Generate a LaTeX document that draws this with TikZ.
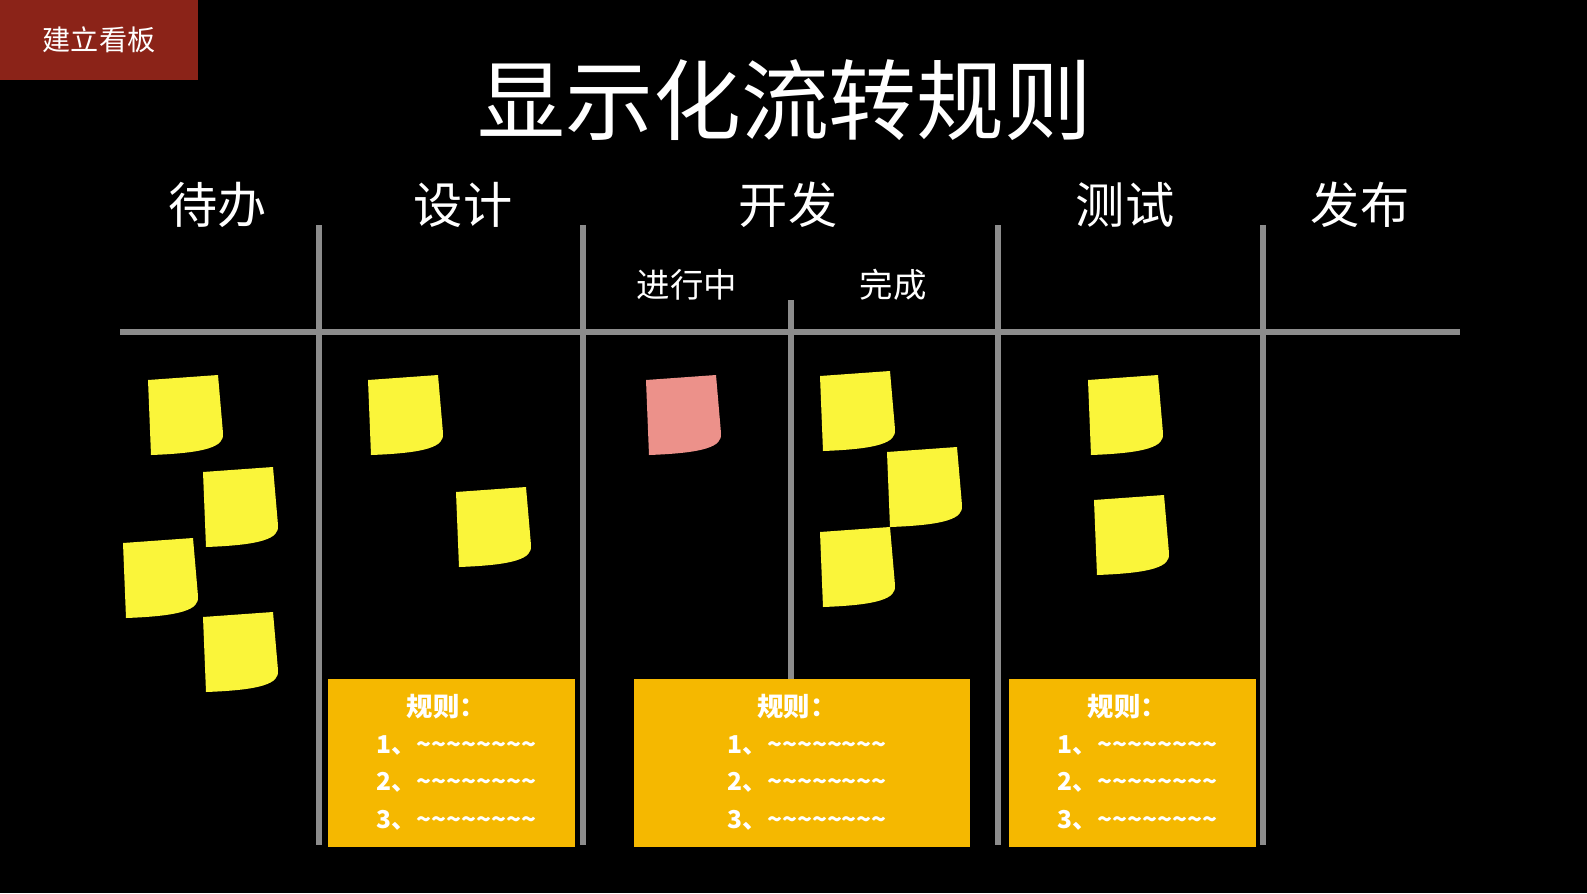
\documentclass[tikz,border=0pt]{standalone}
\usepackage{fontspec}
\setmainfont{Noto Sans CJK SC}
\newcommand\tls{\textasciitilde\textasciitilde\textasciitilde\textasciitilde\textasciitilde\textasciitilde\textasciitilde\textasciitilde}
\begin{document}
\begin{tikzpicture}[x=0.01cm,y=-0.01cm,
  chalk/.style={draw=black!45,line width=1.7pt},
  rulebox/.style={fill=ruleorange,draw=none},
  ruletext/.style={text=white,font=\fontsize{7}{8}\selectfont\bfseries,anchor=west},
  head/.style={text=white,font=\fontsize{14}{16}\selectfont},
  sub/.style={text=white,font=\fontsize{9.5}{11}\selectfont},
  sticky/.pic={\fill[pic actions] (-37,-35) -- (33,-40) -- (38,18) .. controls (40,32) and (20,38) .. (-34,40) -- cycle;}]
\definecolor{ruleorange}{HTML}{F5B800}
\definecolor{tagred}{HTML}{8B2318}
\definecolor{noteyellow}{HTML}{FAF53A}
\definecolor{notepink}{HTML}{EC918A}
\fill[black] (0,0) rectangle (1587,893);
\useasboundingbox (0,0) rectangle (1587,893);
\fill[tagred] (0,0) rectangle (198,80);
\node[text=white,font=\fontsize{8}{10}\selectfont] (tag) at (99,40) {建立看板};
\node[text=white,font=\fontsize{25}{28}\selectfont] (title) at (785,100) {显示化流转规则};
% lines
\draw[chalk] (120,332) -- (1460,332);
\foreach \x in {319,583,998,1263} \draw[chalk] (\x,225) -- (\x,845);
\draw[chalk] (791,300) -- (791,680);
% headers
\node[head] (h1) at (218,205) {待办};
\node[head] (h2) at (463,205) {设计};
\node[head] (h3) at (788,205) {开发};
\node[head] (h4) at (1125,205) {测试};
\node[head] (h5) at (1360,205) {发布};
\node[sub] (s1) at (687,285) {进行中};
\node[sub] (s2) at (893,285) {完成};
% stickies
\foreach \x/\y in {185/415,240/507,160/578,240/652,405/415,493/527,857/411,924/487,857/567,1125/415,1131/535}
  \pic[fill=noteyellow] at (\x,\y) {sticky};
\pic[fill=notepink] at (683,415) {sticky};
% rule boxes
\foreach \a/\b/\n in {328/575/r1,634/970/r2,1009/1256/r3}{
  \fill[rulebox] (\a,679) rectangle (\b,847);
  \node[text=white,font=\fontsize{7.5}{9}\selectfont\bfseries] (\n t) at ({(\a+\b)/2-5},707) {规则：};
  \node[ruletext] (\n a) at ({(\a+\b)/2-87},745) {1、\tls};
  \node[ruletext] (\n b) at ({(\a+\b)/2-87},782) {2、\tls};
  \node[ruletext] (\n c) at ({(\a+\b)/2-87},820) {3、\tls};
}
\end{tikzpicture}
\end{document}
